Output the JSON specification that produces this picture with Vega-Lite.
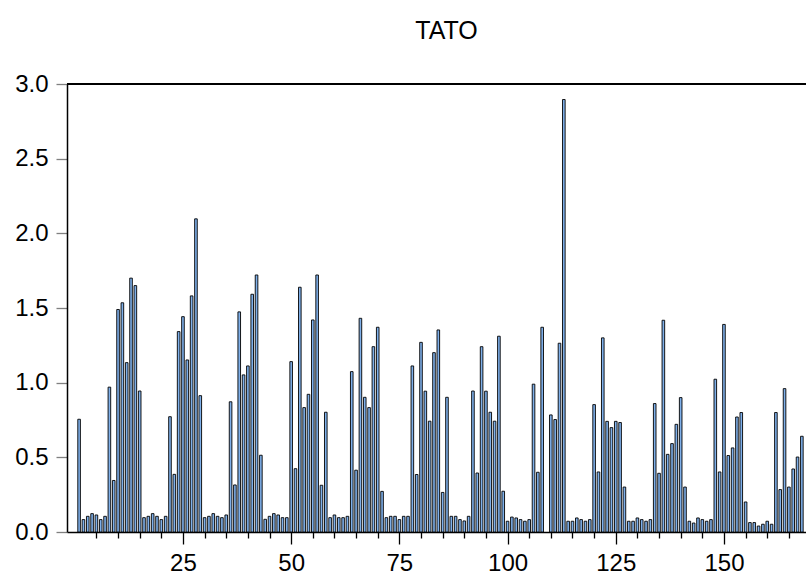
{
  "$schema": "https://vega.github.io/schema/vega-lite/v6.json",
  "autosize": {"type": "none"},
  "padding": {"left": 67, "top": 84, "right": 0, "bottom": 45},
  "width": 739,
  "height": 448,
  "background": "white",
  "config": {
    "view": {"stroke": null},
    "font": "Liberation Sans"
  },
  "title": {
    "text": "TATO",
    "fontSize": 25,
    "fontWeight": "normal",
    "font": "Liberation Sans",
    "color": "black",
    "anchor": "middle",
    "offset": 28,
    "dx": 10
  },
  "data": {
    "values": [
      {"obs": 1, "TATO": 0.755}, {"obs": 2, "TATO": 0.083}, {"obs": 3, "TATO": 0.105}, {"obs": 4, "TATO": 0.123},
      {"obs": 5, "TATO": 0.114}, {"obs": 6, "TATO": 0.083}, {"obs": 7, "TATO": 0.105}, {"obs": 8, "TATO": 0.97},
      {"obs": 9, "TATO": 0.345}, {"obs": 10, "TATO": 1.49}, {"obs": 11, "TATO": 1.535}, {"obs": 12, "TATO": 1.134},
      {"obs": 13, "TATO": 1.70}, {"obs": 14, "TATO": 1.65}, {"obs": 15, "TATO": 0.944}, {"obs": 16, "TATO": 0.096},
      {"obs": 17, "TATO": 0.105}, {"obs": 18, "TATO": 0.123}, {"obs": 19, "TATO": 0.105}, {"obs": 20, "TATO": 0.083},
      {"obs": 21, "TATO": 0.105}, {"obs": 22, "TATO": 0.772}, {"obs": 23, "TATO": 0.386}, {"obs": 24, "TATO": 1.342},
      {"obs": 25, "TATO": 1.442}, {"obs": 26, "TATO": 1.152}, {"obs": 27, "TATO": 1.581}, {"obs": 28, "TATO": 2.097},
      {"obs": 29, "TATO": 0.913}, {"obs": 30, "TATO": 0.096}, {"obs": 31, "TATO": 0.105}, {"obs": 32, "TATO": 0.123},
      {"obs": 33, "TATO": 0.105}, {"obs": 34, "TATO": 0.096}, {"obs": 35, "TATO": 0.114}, {"obs": 36, "TATO": 0.872},
      {"obs": 37, "TATO": 0.315}, {"obs": 38, "TATO": 1.474}, {"obs": 39, "TATO": 1.052}, {"obs": 40, "TATO": 1.112},
      {"obs": 41, "TATO": 1.592}, {"obs": 42, "TATO": 1.721}, {"obs": 43, "TATO": 0.514}, {"obs": 44, "TATO": 0.085},
      {"obs": 45, "TATO": 0.105}, {"obs": 46, "TATO": 0.123}, {"obs": 47, "TATO": 0.114}, {"obs": 48, "TATO": 0.096},
      {"obs": 49, "TATO": 0.096}, {"obs": 50, "TATO": 1.141}, {"obs": 51, "TATO": 0.424}, {"obs": 52, "TATO": 1.639},
      {"obs": 53, "TATO": 0.833}, {"obs": 54, "TATO": 0.922}, {"obs": 55, "TATO": 1.42}, {"obs": 56, "TATO": 1.721},
      {"obs": 57, "TATO": 0.313}, {"obs": 58, "TATO": 0.802}, {"obs": 59, "TATO": 0.096}, {"obs": 60, "TATO": 0.114},
      {"obs": 61, "TATO": 0.096}, {"obs": 62, "TATO": 0.096}, {"obs": 63, "TATO": 0.105}, {"obs": 64, "TATO": 1.074},
      {"obs": 65, "TATO": 0.414}, {"obs": 66, "TATO": 1.431}, {"obs": 67, "TATO": 0.902}, {"obs": 68, "TATO": 0.833},
      {"obs": 69, "TATO": 1.241}, {"obs": 70, "TATO": 1.371}, {"obs": 71, "TATO": 0.272}, {"obs": 72, "TATO": 0.096},
      {"obs": 73, "TATO": 0.105}, {"obs": 74, "TATO": 0.105}, {"obs": 75, "TATO": 0.083}, {"obs": 76, "TATO": 0.105},
      {"obs": 77, "TATO": 0.105}, {"obs": 78, "TATO": 1.112}, {"obs": 79, "TATO": 0.385}, {"obs": 80, "TATO": 1.27},
      {"obs": 81, "TATO": 0.943}, {"obs": 82, "TATO": 0.742}, {"obs": 83, "TATO": 1.201}, {"obs": 84, "TATO": 1.353},
      {"obs": 85, "TATO": 0.265}, {"obs": 86, "TATO": 0.902}, {"obs": 87, "TATO": 0.105}, {"obs": 88, "TATO": 0.105},
      {"obs": 89, "TATO": 0.083}, {"obs": 90, "TATO": 0.074}, {"obs": 91, "TATO": 0.105}, {"obs": 92, "TATO": 0.944},
      {"obs": 93, "TATO": 0.395}, {"obs": 94, "TATO": 1.241}, {"obs": 95, "TATO": 0.943}, {"obs": 96, "TATO": 0.802},
      {"obs": 97, "TATO": 0.742}, {"obs": 98, "TATO": 1.311}, {"obs": 99, "TATO": 0.273}, {"obs": 100, "TATO": 0.072},
      {"obs": 101, "TATO": 0.10}, {"obs": 102, "TATO": 0.094}, {"obs": 103, "TATO": 0.083}, {"obs": 104, "TATO": 0.072},
      {"obs": 105, "TATO": 0.083}, {"obs": 106, "TATO": 0.99}, {"obs": 107, "TATO": 0.40}, {"obs": 108, "TATO": 1.371},
      {"obs": 110, "TATO": 0.784}, {"obs": 111, "TATO": 0.753}, {"obs": 112, "TATO": 1.264},
      {"obs": 113, "TATO": 2.896}, {"obs": 114, "TATO": 0.072}, {"obs": 115, "TATO": 0.072}, {"obs": 116, "TATO": 0.094},
      {"obs": 117, "TATO": 0.083}, {"obs": 118, "TATO": 0.072}, {"obs": 119, "TATO": 0.083}, {"obs": 120, "TATO": 0.853},
      {"obs": 121, "TATO": 0.402}, {"obs": 122, "TATO": 1.30}, {"obs": 123, "TATO": 0.741}, {"obs": 124, "TATO": 0.699},
      {"obs": 125, "TATO": 0.741}, {"obs": 126, "TATO": 0.733}, {"obs": 127, "TATO": 0.301}, {"obs": 128, "TATO": 0.072},
      {"obs": 129, "TATO": 0.072}, {"obs": 130, "TATO": 0.094}, {"obs": 131, "TATO": 0.083}, {"obs": 132, "TATO": 0.072},
      {"obs": 133, "TATO": 0.083}, {"obs": 134, "TATO": 0.86}, {"obs": 135, "TATO": 0.393}, {"obs": 136, "TATO": 1.418},
      {"obs": 137, "TATO": 0.52}, {"obs": 138, "TATO": 0.592}, {"obs": 139, "TATO": 0.721}, {"obs": 140, "TATO": 0.90},
      {"obs": 141, "TATO": 0.301}, {"obs": 142, "TATO": 0.072}, {"obs": 143, "TATO": 0.06}, {"obs": 144, "TATO": 0.094},
      {"obs": 145, "TATO": 0.083}, {"obs": 146, "TATO": 0.072}, {"obs": 147, "TATO": 0.083}, {"obs": 148, "TATO": 1.023},
      {"obs": 149, "TATO": 0.402}, {"obs": 150, "TATO": 1.39}, {"obs": 151, "TATO": 0.512}, {"obs": 152, "TATO": 0.563},
      {"obs": 153, "TATO": 0.77}, {"obs": 154, "TATO": 0.80}, {"obs": 155, "TATO": 0.201}, {"obs": 156, "TATO": 0.063},
      {"obs": 157, "TATO": 0.063}, {"obs": 158, "TATO": 0.04}, {"obs": 159, "TATO": 0.052}, {"obs": 160, "TATO": 0.072},
      {"obs": 161, "TATO": 0.052}, {"obs": 162, "TATO": 0.80}, {"obs": 163, "TATO": 0.284}, {"obs": 164, "TATO": 0.96},
      {"obs": 165, "TATO": 0.301}, {"obs": 166, "TATO": 0.422}, {"obs": 167, "TATO": 0.502}, {"obs": 168, "TATO": 0.641}
    ]
  },
  "layer": [
    {
      "mark": {"type": "bar", "size": 2.6, "fill": "#7fb0ea", "stroke": "black", "strokeWidth": 0.9, "clip": true},
      "encoding": {
        "x": {
          "field": "obs",
          "type": "quantitative",
          "scale": {"domain": [-0.64, 167.8], "nice": false, "zero": false},
          "axis": {
            "title": null,
            "values": [5, 10, 15, 20, 25, 30, 35, 40, 45, 50, 55, 60, 65, 70, 75, 80, 85, 90, 95, 100, 105, 110, 115, 120, 125, 130, 135, 140, 145, 150, 155, 160, 165],
            "labelExpr": "datum.value % 25 === 0 ? datum.label : ''",
            "tickSize": {"condition": {"test": "datum.value % 25 === 0", "value": 12}, "value": 6},
            "tickColor": "black",
            "tickWidth": 1.3,
            "domainColor": "black",
            "domainWidth": 1.5,
            "labelFontSize": 24,
            "labelFont": "Liberation Sans",
            "labelColor": "black",
            "labelPadding": 7,
            "labelFlush": false,
            "labelOverlap": false,
            "grid": false
          }
        },
        "y": {
          "field": "TATO",
          "type": "quantitative",
          "scale": {"domain": [0, 3], "nice": false},
          "axis": {
            "title": null,
            "values": [0, 0.5, 1, 1.5, 2, 2.5, 3],
            "format": ".1f",
            "tickSize": 11,
            "tickColor": "#808080",
            "tickWidth": 1.3,
            "domainColor": "black",
            "domainWidth": 1.5,
            "labelFontSize": 24,
            "labelFont": "Liberation Sans",
            "labelColor": "black",
            "labelPadding": 8,
            "grid": false
          }
        }
      }
    },
    {
      "mark": {"type": "rule", "color": "black", "strokeWidth": 1.5},
      "encoding": {"y": {"datum": 3}}
    }
  ]
}
